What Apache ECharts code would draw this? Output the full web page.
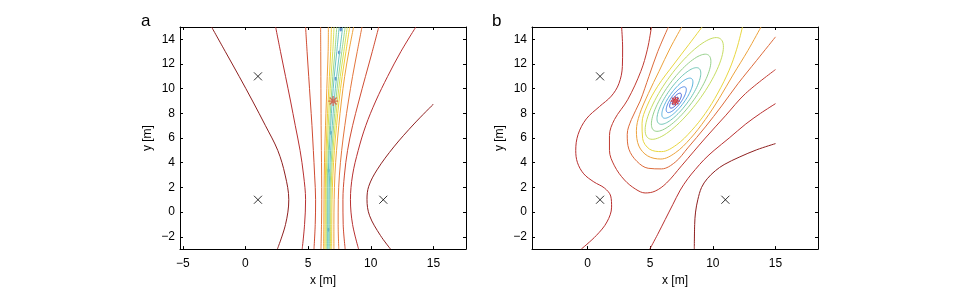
<!DOCTYPE html>
<html>
<head>
<meta charset="utf-8">
<script src="https://cdn.jsdelivr.net/npm/echarts@6/dist/echarts.min.js"></script>
<style>
html, body { margin: 0; background: #fff; }
#chart { width: 964px; height: 292px; }
</style>
</head>
<body>
<div id="chart"></div>
<script>
// tick labels
var xTicksA = [-5, 0, 5, 10, 15];
var xTicksB = [0, 5, 10, 15];
var yTicks = [-2, 0, 2, 4, 6, 8, 10, 12, 14];

// sensors and source
var sensors = [[1, 11], [1, 1], [11, 1]];
var source = [[7, 9]];

// panel a: contour x positions read at these y levels
var yLevels = [-3, -1, 1, 3, 5, 7, 9, 11, 13, 15];
var aLeft1 = [2.55, 3.2, 3.46, 3.17, 2.58, 1.6, 0.57, -0.5, -1.6, -2.7];
var aLeft2 = [4.53, 4.72, 4.80, 4.64, 4.36, 3.98, 3.60, 3.20, 2.80, 2.41];
var aLeft3 = [5.47, 5.57, 5.60, 5.52, 5.42, 5.31, 5.18, 5.05, 4.92, 4.80];
var aLeft4 = [6.03, 6.07, 6.09, 6.08, 6.06, 6.04, 6.03, 6.02, 6.01, 6.00];
var aLeft5 = [6.24, 6.26, 6.27, 6.29, 6.33, 6.39, 6.46, 6.53, 6.60, 6.62];
var aLeft6 = [6.34, 6.36, 6.37, 6.39, 6.44, 6.51, 6.60, 6.70, 6.80, 6.86];
var aLeft7 = [6.43, 6.44, 6.44, 6.46, 6.52, 6.61, 6.71, 6.83, 6.97, 7.07];
var aLeft8 = [6.50, 6.51, 6.52, 6.55, 6.62, 6.72, 6.83, 6.97, 7.14, 7.29];
var aLeft9 = [6.56, 6.57, 6.58, 6.61, 6.69, 6.80, 6.93, 7.09, 7.29, 7.48];
var aRight9 = [6.65, 6.66, 6.67, 6.72, 6.80, 6.93, 7.08, 7.28, 7.52, 7.76];
var aRight8 = [6.72, 6.73, 6.74, 6.80, 6.90, 7.04, 7.21, 7.43, 7.69, 7.96];
var aRight7 = [6.79, 6.80, 6.82, 6.88, 6.99, 7.15, 7.34, 7.57, 7.85, 8.13];
var aRight6 = [6.88, 6.89, 6.91, 6.98, 7.10, 7.27, 7.47, 7.72, 8.02, 8.32];
var aRight5 = [7.06, 7.06, 7.08, 7.14, 7.27, 7.45, 7.66, 7.92, 8.25, 8.63];
var aRight4 = [7.45, 7.40, 7.41, 7.50, 7.68, 7.93, 8.22, 8.55, 8.92, 9.30];
var aRight3 = [7.96, 7.80, 7.78, 7.90, 8.15, 8.55, 9.05, 9.58, 10.12, 10.64];
var aRight2 = [9.03, 8.55, 8.38, 8.55, 9.00, 9.60, 10.40, 11.35, 12.40, 13.60];
var aRight1 = [[11.58, -3], [10.77, -1.89], [9.91, -0.3], [9.70, 1.03], [9.84, 2.09],
               [10.5, 3.42], [11.84, 5.28], [13.45, 7.14], [15, 8.75]];
// small minima along the valley in panel a
var aMinima = [[6.62, -1.43], [6.62, 3.36], [6.81, 6.42], [7.21, 10.8], [7.48, 12.94], [7.61, 14.8]];

// panel b: open contours as (x, y) points
var bDark = [[8.52, -3], [8.55, -1], [8.62, 0], [8.8, 1], [9.1, 2], [9.55, 2.7], [10.2, 3.35],
             [10.9, 3.85], [12.1, 4.45], [13.5, 5.05], [15, 5.55]];
var bWave = [[-0.5, -3], [0.7, -1.9], [1.55, -0.8], [1.92, 0.4], [1.85, 1.3], [1.35, 1.95], [0.5, 2.45],
             [-0.3, 3.1], [-0.8, 4.0], [-0.94, 5.0], [-0.75, 6.3], [-0.1, 7.55], [0.95, 8.55],
             [1.9, 9.4], [2.5, 10.4], [2.78, 11.8], [2.8, 13.3], [2.72, 15]];
var bRed = [[4.97, -3], [5.6, -1.8], [6.2, -0.6], [6.8, 0.6], [7.4, 1.78], [8.0, 2.7], [8.6, 3.45],
            [9.3, 4.25], [10.1, 5.0], [11.3, 6.0], [12.63, 7.14], [13.8, 8.0], [15, 8.79]];
var bU1 = [[5.1, 15], [4.78, 13.2], [4.25, 11.4], [3.2, 9.1], [2.15, 7.5], [1.75, 6.2], [1.75, 5.0],
           [2.15, 3.75], [2.95, 2.6], [3.85, 1.85], [4.6, 1.55], [5.4, 1.7], [6.3, 2.35], [7.5, 3.75],
           [9.4, 6.0], [11.0, 7.8], [12.6, 9.6], [15, 11.55]];
var bU2 = [[6.45, 15], [5.6, 13.0], [4.9, 11.0], [4.2, 9.0], [3.5, 7.5], [3.17, 6.3], [3.3, 5.1],
           [3.95, 4.1], [4.84, 3.55], [5.9, 3.5], [7.0, 4.05], [8.0, 5.2], [9.4, 6.9], [10.7, 8.6],
           [12.0, 10.4], [13.5, 12.3], [15, 14.2]];
var bU3 = [[7.52, 15], [6.6, 13.3], [5.7, 11.4], [4.85, 9.6], [4.15, 7.9], [3.9, 6.6], [4.1, 5.35],
           [4.8, 4.55], [5.85, 4.3], [7.0, 4.8], [8.2, 5.95], [9.4, 7.5], [10.5, 9.2], [11.6, 11.1],
           [12.8, 13.1], [13.84, 15]];
var bU4 = [[9.14, 15], [8.1, 13.6], [6.9, 12.0], [5.6, 10.2], [4.75, 8.6], [4.35, 7.2], [4.4, 5.95],
           [4.95, 5.1], [5.9, 4.9], [7.1, 5.45], [8.3, 6.6], [9.4, 8.0], [10.4, 9.65], [11.3, 11.5],
           [11.9, 13.2], [12.36, 15]];
// closed contours round the source: centre x, centre y, half length, half width, tilt (deg)
var bRings = [
    [7.72, 10.02, 4.95, 1.50, 54.5],
    [7.47, 9.67, 3.75, 1.16, 54.5],
    [7.29, 9.41, 2.75, 0.87, 54.5],
    [7.17, 9.23, 1.95, 0.62, 54.5],
    [7.08, 9.11, 1.25, 0.42, 54.5],
    [7.02, 9.03, 0.72, 0.26, 54.5],
    [7.00, 9.00, 0.36, 0.13, 54.5]
];

var ringColors = ['#c7dd62', '#97d18c', '#70c6b6', '#5ab2de', '#4a84e6', '#3554d6', '#2b30a8'];

function pairs(xs) {
    return yLevels.map(function (y, i) { return [xs[i], y]; });
}

function contour(data, color, g) {
    return {
        type: 'line', data: data, xAxisIndex: g * 2, yAxisIndex: g * 2,
        showSymbol: false, smooth: 0.35, silent: true, animation: false,
        lineStyle: { color: color, width: 1 }
    };
}

function minus(v) {
    return v < 0 ? '\u2212' + Math.abs(v) : String(v);
}

var font = 'Liberation Sans, Arial, Helvetica, sans-serif';

function xAxis(g, pos, min, max, ticks, labels) {
    return {
        type: 'value', gridIndex: g, position: pos, min: min, max: max,
        name: labels ? 'x [m]' : '', nameLocation: 'middle', nameGap: 25,
        nameTextStyle: { color: '#000', fontSize: 12, fontFamily: font },
        axisLine: { show: true, onZero: false, lineStyle: { color: '#000', width: 1 } },
        axisTick: { show: true, inside: true, length: 3, customValues: ticks, lineStyle: { color: '#000' } },
        axisLabel: { show: labels, customValues: ticks, formatter: minus, color: '#000',
                     fontSize: 12, fontFamily: font, margin: 9 },
        splitLine: { show: false }
    };
}

function yAxis(g, pos, labels) {
    return {
        type: 'value', gridIndex: g, position: pos, min: -3, max: 15,
        name: labels ? 'y [m]' : '', nameLocation: 'middle', nameGap: 26,
        nameTextStyle: { color: '#000', fontSize: 12, fontFamily: font },
        axisLine: { show: true, onZero: false, lineStyle: { color: '#000', width: 1 } },
        axisTick: { show: true, inside: true, length: 3, customValues: yTicks, lineStyle: { color: '#000' } },
        axisLabel: { show: labels, customValues: yTicks, formatter: minus, color: '#000',
                     fontSize: 12, fontFamily: font, margin: 5 },
        splitLine: { show: false }
    };
}

var xSym = 'path://M0 0L10 10M10 0L0 10';
var starSym = 'path://M5 0L5 10M0 5L10 5M1.5 1.5L8.5 8.5M8.5 1.5L1.5 8.5';

function marks(g, data, sym, size, color, w) {
    return {
        type: 'scatter', data: data, xAxisIndex: g * 2, yAxisIndex: g * 2,
        symbol: sym, symbolSize: size, silent: true, animation: false, z: 5,
        itemStyle: { color: 'rgba(0,0,0,0)', borderColor: color, borderWidth: w }
    };
}

var levelA = ['#8e1f1f', '#b83030', '#cf4b32', '#e3743c', '#eea23c', '#f1cf3b', '#d6e25a', '#9fd98b', '#6cc5c2'];
var leftA = [aLeft1, aLeft2, aLeft3, aLeft4, aLeft5, aLeft6, aLeft7, aLeft8, aLeft9];
var rightA = [null, aRight2, aRight3, aRight4, aRight5, aRight6, aRight7, aRight8, aRight9];

var series = [];
leftA.forEach(function (xs, i) { series.push(contour(pairs(xs), levelA[i], 0)); });
rightA.forEach(function (xs, i) { if (xs) series.push(contour(pairs(xs), levelA[i], 0)); });
series.push(contour(aRight1, levelA[0], 0));
series.push({
    type: 'scatter', data: aMinima, xAxisIndex: 0, yAxisIndex: 0, symbol: 'circle',
    symbolSize: [2.5, 4], silent: true, animation: false, itemStyle: { color: '#3b6fc8' }
});

series.push(contour(bDark, '#8e1f1f', 1));
series.push(contour(bWave, '#b83030', 1));
series.push(contour(bRed, '#b83030', 1));
series.push(contour(bU1, '#c03a30', 1));
series.push(contour(bU2, '#dc6a3a', 1));
series.push(contour(bU3, '#eca23c', 1));
series.push(contour(bU4, '#e8d640', 1));
series.push({
    type: 'custom', data: bRings, xAxisIndex: 2, yAxisIndex: 2, silent: true, animation: false,
    renderItem: function (params, api) {
        var cx = api.value(0), cy = api.value(1), a = api.value(2), b = api.value(3);
        var ang = api.value(4) * Math.PI / 180;
        var pts = [];
        for (var k = 0; k < 90; k++) {
            var t = k / 90 * 2 * Math.PI;
            var ex = a * Math.cos(t), ey = b * Math.sin(t);
            pts.push(api.coord([cx + ex * Math.cos(ang) - ey * Math.sin(ang),
                                cy + ex * Math.sin(ang) + ey * Math.cos(ang)]));
        }
        return { type: 'polygon', shape: { points: pts },
                 style: { fill: 'none', stroke: ringColors[params.dataIndex], lineWidth: 1 } };
    }
});

[0, 1].forEach(function (g) {
    series.push(marks(g, sensors, xSym, 8, '#000', 1));
});
series.push(marks(0, source, starSym, 10, '#d9503a', 1.3));
series.push(marks(1, source, starSym, 9, '#d42a2a', 1.5));

var chart = echarts.init(document.getElementById('chart'), null, { renderer: 'canvas' });
chart.setOption({
    backgroundColor: '#fff',
    animation: false,
    grid: [
        { left: 180, top: 27, width: 286, height: 226 },
        { left: 532, top: 27, width: 286, height: 226 }
    ],
    xAxis: [
        xAxis(0, 'bottom', -5.22, 17.6, xTicksA, true),
        xAxis(0, 'top', -5.22, 17.6, xTicksA, false),
        xAxis(1, 'bottom', -4.43, 18.39, xTicksB, true),
        xAxis(1, 'top', -4.43, 18.39, xTicksB, false)
    ],
    yAxis: [
        yAxis(0, 'left', true),
        yAxis(0, 'right', false),
        yAxis(1, 'left', true),
        yAxis(1, 'right', false)
    ],
    graphic: [
        { type: 'text', left: 141, top: 13, style: { text: 'a', fontSize: 17, fontFamily: font, fill: '#000' } },
        { type: 'text', left: 492, top: 13, style: { text: 'b', fontSize: 17, fontFamily: font, fill: '#000' } }
    ],
    series: series
});
</script>
</body>
</html>
